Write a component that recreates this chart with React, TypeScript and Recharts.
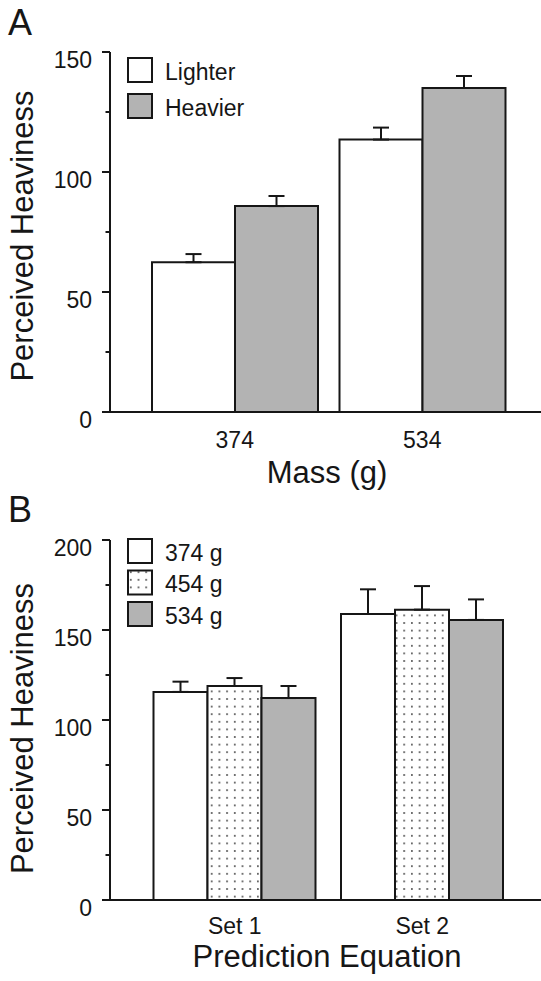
import React from 'react'
import { BarChart, Bar, XAxis, YAxis, ErrorBar, Legend } from 'recharts'

// Panel A
const massCategories = ['374', '534']
const legendA = ['Lighter', 'Heavier']
const lighterValues = [62.4, 113.5]
const lighterErrors = [3.4, 5.0]
const heavierValues = [85.8, 135.0]
const heavierErrors = [4.2, 5.0]
const ticksA = [0, 25, 50, 75, 100, 125, 150]

// Panel B
const setCategories = ['Set 1', 'Set 2']
const legendB = ['374 g', '454 g', '534 g']
const g374Values = [115.6, 158.9]
const g374Errors = [5.7, 13.7]
const g454Values = [118.9, 161.3]
const g454Errors = [4.4, 13.1]
const g534Values = [112.2, 155.6]
const g534Errors = [6.7, 11.4]
const ticksB = [0, 25, 50, 75, 100, 125, 150, 175, 200]

const FONT = '"Liberation Sans", Arial, Helvetica, sans-serif'
const INK = '#161616'
const GREY = '#b3b3b3'

const dataA = massCategories.map((m, i) => ({
  mass: m,
  lighter: lighterValues[i],
  lighterErr: [0, lighterErrors[i]],
  heavier: heavierValues[i],
  heavierErr: [0, heavierErrors[i]]
}))

const dataB = setCategories.map((s, i) => ({
  set: s,
  g374: g374Values[i],
  g374Err: [0, g374Errors[i]],
  g454: g454Values[i],
  g454Err: [0, g454Errors[i]],
  g534: g534Values[i],
  g534Err: [0, g534Errors[i]]
}))

const YTick = (props: any) => {
  const { x, y, payload } = props
  const major = payload.value % 50 === 0
  return (
    <g>
      <line x1={x - (major ? 8 : 4.5)} x2={x} y1={y} y2={y} stroke={INK} strokeWidth={2} />
      {major && (
        <text x={x - 18} y={y + 15.5} textAnchor="end" fontSize={23} fontFamily={FONT} fill={INK}>
          {payload.value}
        </text>
      )}
    </g>
  )
}

const makeXTick = (dy: number) => (props: any) => {
  const { x, y, payload } = props
  return (
    <text x={x} y={y + dy} textAnchor="middle" fontSize={23} fontFamily={FONT} fill={INK}>
      {payload.value}
    </text>
  )
}

// legend drawn in the order of the names list, not Recharts' sorted payload
const makeLegend = (order: string[], step: number) => (props: any) => {
  const payload = props.payload || []
  const items = order.map((name) => payload.find((p: any) => p.value === name)).filter(Boolean)
  return (
    <svg width={160} height={items.length * step + 4}>
      {items.map((it: any, i: number) => (
        <g key={it.value}>
          <rect x={1} y={1 + i * step} width={24} height={24} fill={it.color} stroke={INK} strokeWidth={2} />
          <text x={38} y={22.5 + i * step} fontSize={23} fontFamily={FONT} fill={INK}>
            {it.value}
          </text>
        </g>
      ))}
    </svg>
  )
}

const yLabel = (cy: number) => ({
  content: () => (
    <text
      transform={`translate(33, ${cy}) rotate(-90)`}
      textAnchor="middle"
      fontSize={31}
      fontFamily={FONT}
      fill={INK}
    >
      Perceived Heaviness
    </text>
  )
})

const xLabel = (text: string, y: number) => ({
  content: () => (
    <text x={327} y={y} textAnchor="middle" fontSize={31} fontFamily={FONT} fill={INK}>
      {text}
    </text>
  )
})

const axisLine = { stroke: INK, strokeWidth: 2 }

export default function App() {
  return (
    <div style={{ position: 'absolute', left: 0, top: 0, width: 541, height: 981, background: '#fff' }}>
      <svg width={541} height={981} style={{ position: 'absolute', left: 0, top: 0 }}>
        <text x={8} y={35} fontSize={36} fontFamily={FONT} fill={INK}>A</text>
        <text x={8} y={522} fontSize={36} fontFamily={FONT} fill={INK}>B</text>
      </svg>

      <div style={{ position: 'absolute', left: 0, top: 0 }}>
        <BarChart
          width={541}
          height={490}
          data={dataA}
          margin={{ top: 52, right: 0, bottom: 0, left: 0 }}
          barCategoryGap={11}
          barGap={0}
        >
          <XAxis
            dataKey="mass"
            height={78}
            padding={{ left: 31, right: 25 }}
            axisLine={axisLine}
            tickLine={false}
            tickSize={0}
            tickMargin={0}
            tick={makeXTick(36)}
            label={xLabel('Mass (g)', 483)}
          />
          <YAxis
            width={110}
            domain={[0, 150]}
            ticks={ticksA}
            interval={0}
            axisLine={axisLine}
            tickLine={false}
            tickSize={0}
            tickMargin={0}
            tick={<YTick />}
            label={yLabel(236)}
          />
          <Legend
            layout="horizontal"
            verticalAlign="middle"
            align="center"
            wrapperStyle={{ top: 57, left: 127, width: 160 }}
            content={makeLegend(legendA, 36)}
          />
          <Bar dataKey="lighter" name={legendA[0]} fill="#ffffff" stroke={INK} strokeWidth={2} isAnimationActive={false}>
            <ErrorBar dataKey="lighterErr" direction="y" width={8} stroke={INK} strokeWidth={2} />
          </Bar>
          <Bar dataKey="heavier" name={legendA[1]} fill={GREY} stroke={INK} strokeWidth={2} isAnimationActive={false}>
            <ErrorBar dataKey="heavierErr" direction="y" width={8} stroke={INK} strokeWidth={2} />
          </Bar>
        </BarChart>
      </div>

      <div style={{ position: 'absolute', left: 0, top: 490 }}>
        <BarChart
          width={541}
          height={491}
          data={dataB}
          margin={{ top: 50, right: 0, bottom: 0, left: 0 }}
          barCategoryGap={12.5}
          barGap={0}
        >
          <defs>
            <pattern id="dots" width={7.7} height={7.6} patternUnits="userSpaceOnUse">
              <rect width={7.7} height={7.6} fill="#ffffff" />
              <circle cx={3.8} cy={3.8} r={0.95} fill="#444444" />
            </pattern>
          </defs>
          <XAxis
            dataKey="set"
            height={81}
            padding={{ left: 31, right: 25 }}
            axisLine={axisLine}
            tickLine={false}
            tickSize={0}
            tickMargin={0}
            tick={makeXTick(33.5)}
            label={xLabel('Prediction Equation', 476.5)}
          />
          <YAxis
            width={110}
            domain={[0, 200]}
            ticks={ticksB}
            interval={0}
            axisLine={axisLine}
            tickLine={false}
            tickSize={0}
            tickMargin={0}
            tick={<YTick />}
            label={yLabel(238.5)}
          />
          <Legend
            layout="horizontal"
            verticalAlign="middle"
            align="center"
            wrapperStyle={{ top: 48, left: 127, width: 160 }}
            content={makeLegend(legendB, 31.5)}
          />
          <Bar dataKey="g374" name={legendB[0]} fill="#ffffff" stroke={INK} strokeWidth={2} isAnimationActive={false}>
            <ErrorBar dataKey="g374Err" direction="y" width={8} stroke={INK} strokeWidth={2} />
          </Bar>
          <Bar dataKey="g454" name={legendB[1]} fill="url(#dots)" stroke={INK} strokeWidth={2} isAnimationActive={false}>
            <ErrorBar dataKey="g454Err" direction="y" width={8} stroke={INK} strokeWidth={2} />
          </Bar>
          <Bar dataKey="g534" name={legendB[2]} fill={GREY} stroke={INK} strokeWidth={2} isAnimationActive={false}>
            <ErrorBar dataKey="g534Err" direction="y" width={8} stroke={INK} strokeWidth={2} />
          </Bar>
        </BarChart>
      </div>
    </div>
  )
}
